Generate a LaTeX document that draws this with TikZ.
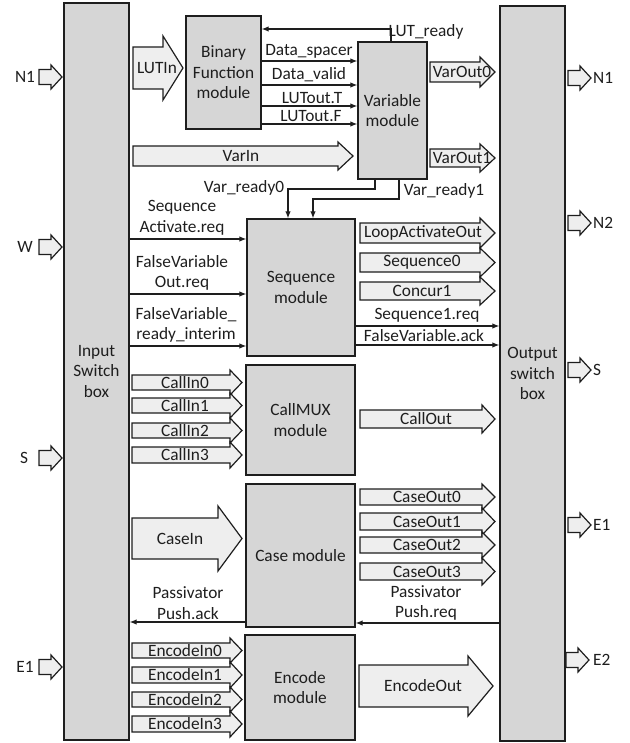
\documentclass[tikz,border=0pt]{standalone}
\usepackage{fontspec}
\setmainfont{Carlito}
\usetikzlibrary{arrows.meta}
\definecolor{boxgray}{HTML}{D6D6D6}
\definecolor{arrfill}{HTML}{EEEEEE}
\definecolor{ink}{HTML}{1E1E1E}
% block arrow: name, x1, xtip, ytop, ybot, headstart, headext, labelx, label
\newcommand\blockarr[9]{%
  \draw[barrow] (#2,#4) -- (#6,#4) -- (#6,#4-#7) -- (#3,{(#4+#5)/2}) -- (#6,#5+#7) -- (#6,#5) -- (#2,#5) -- cycle;
  \node (#1) at (#8,{(#4+#5)/2}) {#9};}
% port arrow: x1, ymid
\newcommand\portarr[2]{%
  \draw[barrow] (#1,#2-7.5) -- (#1+12,#2-7.5) -- (#1+12,#2-12) -- (#1+23,#2) -- (#1+12,#2+12) -- (#1+12,#2+7.5) -- (#1,#2+7.5) -- cycle;}
\begin{document}
\begin{tikzpicture}[x=1pt,y=-1pt,
  font=\fontsize{17.3}{20.5}\selectfont, text=ink,
  every node/.style={inner sep=0pt, align=center},
  module/.style={draw=ink, fill=boxgray, line width=1.3pt, rectangle},
  swbox/.style={draw=ink, fill=boxgray, line width=1.3pt, rectangle},
  barrow/.style={draw=ink, fill=arrfill, line width=1.2pt, line join=miter},
  conn/.style={draw=ink, line width=1.2pt, -{Latex[length=7pt,width=5.5pt]}},
  plain/.style={draw=ink, line width=1.2pt}]
\useasboundingbox (0,0) rectangle (629,743);

% switch boxes
\node[swbox, minimum width=65pt, minimum height=737pt] (inp) at (96.5,371.5) {Input\\Switch\\box};
\node[swbox, minimum width=65pt, minimum height=735pt] (out) at (532.5,373.5) {Output\\switch\\box};

% modules
\node[module, minimum width=75pt, minimum height=113pt] (bin) at (223.5,72.5) {Binary\\Function\\module};
\node[module, minimum width=69pt, minimum height=137pt] (var) at (392.5,110.5) {Variable\\module};
\node[module, minimum width=108pt, minimum height=137pt] (seq) at (301,287.5) {Sequence\\module};
\node[module, minimum width=109pt, minimum height=110pt] (mux) at (300.5,420) {CallMUX\\module};
\node[module, minimum width=109pt, minimum height=143pt] (case) at (300.5,555.5) {Case module};
\node[module, minimum width=110pt, minimum height=105pt] (enc) at (300,687.5) {Encode\\module};

% ports left
\portarr{39}{77}  \node (lN1) at (25,77) {N1};
\portarr{39}{247} \node (lW) at (25,247) {W};
\portarr{39}{458} \node (lS) at (24,458) {S};
\portarr{39}{667} \node (lE1) at (25,667) {E1};
% ports right
\portarr{568}{78}  \node[anchor=west] (rN1) at (593,78) {N1};
\portarr{568}{223} \node[anchor=west] (rN2) at (593,223) {N2};
\portarr{568}{370} \node[anchor=west] (rS) at (593,370) {S};
\portarr{568}{525} \node[anchor=west] (rE1) at (593,525) {E1};
\portarr{566}{660} \node[anchor=west] (rE2) at (593,660) {E2};

% block arrows
\blockarr{lutin}{133}{183}{47}{89}{163}{11}{157}{LUTIn}
\blockarr{varin}{133}{353}{146}{166}{338}{4}{241}{VarIn}
\blockarr{vo0}{430}{495}{62}{82}{480}{5}{462}{VarOut0}
\blockarr{vo1}{430}{495}{149}{167}{480}{5}{462}{VarOut1}
\blockarr{lao}{360}{495}{223}{243}{480}{5}{423}{LoopActivateOut}
\blockarr{sq0}{360}{495}{253}{272}{480}{5}{422}{Sequence0}
\blockarr{cc1}{360}{495}{282}{300}{480}{5}{422}{Concur1}
\blockarr{ci0}{132}{242}{375}{390}{230}{5}{185}{CallIn0}
\blockarr{ci1}{132}{242}{398}{413}{230}{5}{185}{CallIn1}
\blockarr{ci2}{132}{242}{423}{438}{230}{5}{185}{CallIn2}
\blockarr{ci3}{132}{242}{447}{463}{230}{5}{185}{CallIn3}
\blockarr{cout}{360}{495}{410}{428}{482}{5}{426}{CallOut}
\blockarr{cin}{132}{242}{518}{559}{218}{12}{180}{CaseIn}
\blockarr{co0}{360}{495}{489}{505}{482}{5}{427}{CaseOut0}
\blockarr{co1}{360}{495}{513}{530}{482}{5}{427}{CaseOut1}
\blockarr{co2}{360}{495}{537}{553}{482}{5}{427}{CaseOut2}
\blockarr{co3}{360}{495}{563}{580}{482}{5}{427}{CaseOut3}
\blockarr{ei0}{132}{242}{643}{658}{230}{5}{185}{EncodeIn0}
\blockarr{ei1}{132}{242}{667}{683}{230}{5}{185}{EncodeIn1}
\blockarr{ei2}{132}{242}{692}{707}{230}{5}{185}{EncodeIn2}
\blockarr{ei3}{132}{242}{716}{732}{230}{5}{185}{EncodeIn3}
\blockarr{eout}{359}{493}{665}{707}{468}{9}{423}{EncodeOut}

% binary <-> variable connectors
\draw[conn] (var.north -| 391,0) |- (bin.east |- 0,29);
\node (llut) at (426,32) {LUT\_ready};
\draw[conn] (bin.east |- 0,61) -- (var.west |- 0,61);
\node (ldsp) at (309,51) {Data\_spacer};
\draw[conn] (bin.east |- 0,85) -- (var.west |- 0,85);
\node (ldvl) at (309,75) {Data\_valid};
\draw[conn] (bin.east |- 0,106) -- (var.west |- 0,106);
\node (llt) at (312,98) {LUTout.T};
\draw[conn] (bin.east |- 0,124) -- (var.west |- 0,124);
\node (llf) at (311,116) {LUTout.F};

% var ready
\draw[conn] (var.south -| 375,0) -- (375,189) -| (seq.north -| 288,0);
\node (lvr0) at (244,188) {Var\_ready0};
\draw[conn] (var.south -| 399,0) -- (399,199) -| (seq.north -| 313,0);
\node (lvr1) at (444,191) {Var\_ready1};

% sequence inputs
\draw[conn] (inp.east |- 0,239) -- (seq.west |- 0,239);
\node (lsar) at (182,218) {Sequence\\Activate.req};
\draw[conn] (inp.east |- 0,294) -- (seq.west |- 0,294);
\node (lfvo) at (182,273) {FalseVariable\\Out.req};
\draw[conn] (inp.east |- 0,346) -- (seq.west |- 0,346);
\node (lfvr) at (186,325) {FalseVariable\_\\ready\_interim};

% sequence outputs
\draw[conn] (seq.east |- 0,326) -- (out.west |- 0,326);
\node (ls1r) at (427,315) {Sequence1.req};
\draw[conn] (seq.east |- 0,345) -- (out.west |- 0,345);
\node (lfva) at (424,336) {FalseVariable.ack};

% passivator
\draw[conn] (out.west |- 0,623) -- (case.east |- 0,623);
\node (lpreq) at (426,603) {Passivator\\Push.req};
\draw[conn] (case.west |- 0,622) -- (inp.east |- 0,622);
\node (lpack) at (188,603) {Passivator\\Push.ack};
\end{tikzpicture}
\end{document}
